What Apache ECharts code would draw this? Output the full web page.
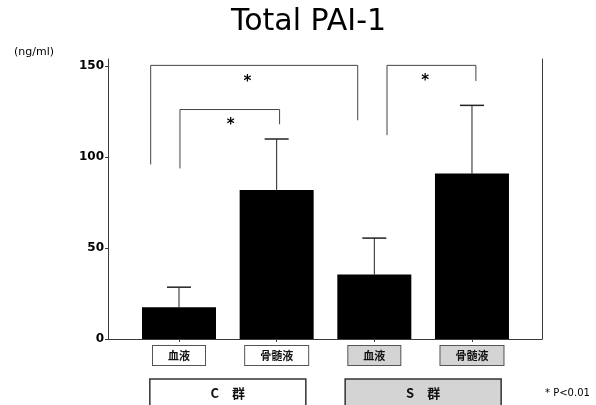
<!DOCTYPE html>
<html><head><meta charset="utf-8">
<script src="https://cdn.jsdelivr.net/npm/echarts@6/dist/echarts.min.js"></script>
<style>html,body{margin:0;padding:0;background:#fff}#c{width:596px;height:405px}</style>
</head><body><div id="c"></div>
<script>
const categories = ['血液', '骨髄液', '血液', '骨髄液'];
const groupOf = ['c', 'c', 's', 's'];
const positions = [1, 2, 3, 4];
const means = [17.5, 82, 35.5, 91];
const upper = [28.5, 110, 55.5, 128.5];
const yTicks = [0, 50, 100, 150];
const groupNames = ['C\u3000群', 'S\u3000群'];
const groupSpans = [[1, 2], [3, 4]];
// brackets: [xLeft, xRight, yTop, yLeftEnd, yRightEnd]
const brackets = [[0.71, 2.83, 150.5, 96, 120.3], [1.01, 2.03, 126.2, 93.8, 118.1], [3.13, 4.04, 150.5, 112.1, 141.9]];
const stars = [[1.70, 142.7], [1.53, 119.4], [3.52, 143.6]];
const titleText = 'Total PAI-1';
const unitText = '(ng/ml)';
const noteText = '* P<0.01';

const lineColor = '#3a3a3a';
const jp = '"Noto Sans CJK JP", sans-serif';
const dv = '"DejaVu Sans", sans-serif';
const chart = echarts.init(document.getElementById('c'));

const labelBox = { fontSize: 11, lineHeight: 11, fontFamily: jp, fontWeight: 'bold', color: '#111', borderColor: '#555', borderWidth: 1, padding: [4, 15, 4, 15] };

const option = {
  animation: false,
  backgroundColor: '#fff',
  grid: { left: 108, right: 54, top: 59, bottom: 66 },
  xAxis: {
    type: 'value', min: 0.273, max: 4.717,
    splitLine: { show: false },
    axisLine: { show: true, lineStyle: { color: lineColor, width: 1 } },
    axisTick: { show: true, customValues: positions, length: 3, lineStyle: { color: lineColor } },
    axisLabel: {
      customValues: positions, margin: 11,
      formatter: function (v) { const i = positions.indexOf(v); return i < 0 ? '' : '{' + groupOf[i] + '|' + categories[i] + '}'; },
      rich: {
        c: Object.assign({}, labelBox, { backgroundColor: '#fff' }),
        s: Object.assign({}, labelBox, { backgroundColor: '#d4d4d4' })
      }
    }
  },
  yAxis: [{
    type: 'value', min: 0, max: 154,
    splitLine: { show: false },
    axisLine: { show: true, lineStyle: { color: lineColor, width: 1 } },
    axisTick: { show: true, customValues: yTicks, length: 3, lineStyle: { color: lineColor } },
    axisLabel: { customValues: yTicks, margin: 4, fontSize: 12, fontWeight: 'bold', color: '#000', fontFamily: dv }
  }, {
    type: 'value', min: 0, max: 154, position: 'right',
    splitLine: { show: false },
    axisLine: { show: true, lineStyle: { color: lineColor, width: 1 } },
    axisTick: { show: false }, axisLabel: { show: false }
  }],
  series: [{
    type: 'bar', barWidth: 74,
    itemStyle: { color: '#000' },
    data: positions.map((p, i) => [p, means[i]])
  }, {
    type: 'custom', clip: false,
    data: positions.map((p, i) => [p, means[i], upper[i]]),
    renderItem: function (params, api) {
      const a = api.coord([api.value(0), api.value(1)]);
      const b = api.coord([api.value(0), api.value(2)]);
      return { type: 'group', children: [
        { type: 'line', shape: { x1: a[0], y1: a[1], x2: b[0], y2: b[1] }, style: { stroke: '#222', lineWidth: 1 } },
        { type: 'line', shape: { x1: b[0] - 12, y1: b[1], x2: b[0] + 12, y2: b[1] }, style: { stroke: '#222', lineWidth: 1.5 } }
      ] };
    }
  }, {
    type: 'custom', clip: false,
    data: brackets,
    renderItem: function (params, api) {
      const p1 = api.coord([api.value(0), api.value(3)]);
      const p2 = api.coord([api.value(0), api.value(2)]);
      const p3 = api.coord([api.value(1), api.value(2)]);
      const p4 = api.coord([api.value(1), api.value(4)]);
      return { type: 'polyline', shape: { points: [p1, p2, p3, p4] }, style: { stroke: '#444', lineWidth: 1, fill: null } };
    }
  }, {
    type: 'custom', clip: false,
    data: stars,
    renderItem: function (params, api) {
      const p = api.coord([api.value(0), api.value(1)]);
      return { type: 'text', x: p[0], y: p[1] + 3, style: { text: '*', fontSize: 15, fontWeight: 'bold', fill: '#000', align: 'center', verticalAlign: 'middle', fontFamily: dv } };
    }
  }, {
    type: 'custom', clip: false,
    data: groupSpans.map((g, i) => [g[0], g[1], i]),
    renderItem: function (params, api) {
      const a = api.coord([(api.value(0) + api.value(1)) / 2, 0]);
      const i = api.value(2);
      return { type: 'group', children: [
        { type: 'rect', shape: { x: a[0] - 78, y: a[1] + 40, width: 156, height: 32 }, style: { fill: i === 0 ? '#fff' : '#d4d4d4', stroke: '#333', lineWidth: 1.5 } },
        { type: 'text', x: a[0], y: a[1] + 54, style: { text: groupNames[i], fontSize: 13, fontWeight: 'bold', fontFamily: jp, fill: '#111', align: 'center', verticalAlign: 'middle' } }
      ] };
    }
  }],
  graphic: [
    { type: 'text', left: 231, top: 7, style: { text: titleText, fontSize: 30, fill: '#000', fontFamily: dv } },
    { type: 'text', left: 14, top: 47, style: { text: unitText, fontSize: 11, fill: '#000', fontFamily: dv } },
    { type: 'text', left: 545, top: 388, style: { text: noteText, fontSize: 10, fill: '#000', fontFamily: dv } }
  ]
};
chart.setOption(option);
</script></body></html>
